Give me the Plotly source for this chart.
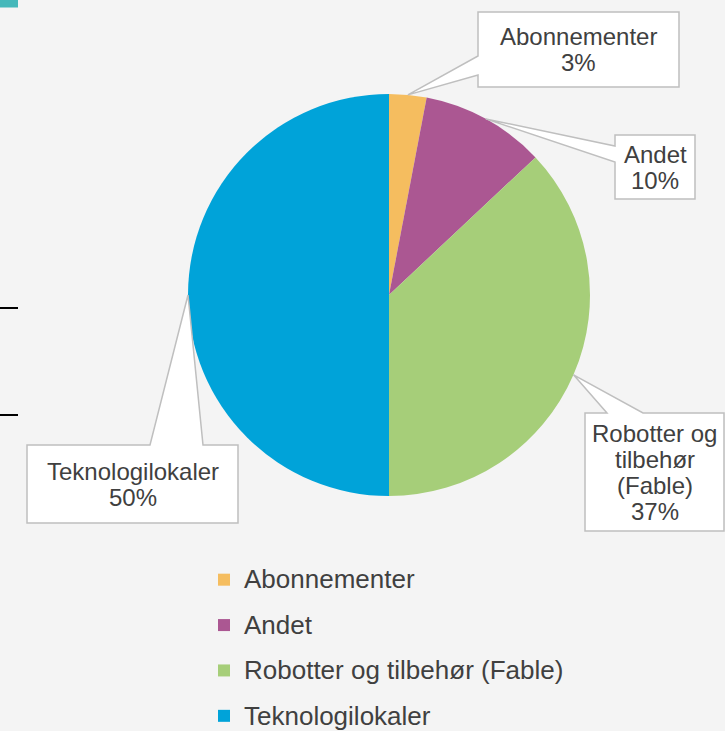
import math
import plotly.graph_objects as go

# ---- data ----
categories = ["Abonnementer", "Andet", "Robotter og tilbehør (Fable)", "Teknologilokaler"]
values = [3, 10, 37, 50]
box_labels = ["Abonnementer", "Andet", "Robotter og<br>tilbehør<br>(Fable)", "Teknologilokaler"]
colors = ["#F5BD5F", "#AB5792", "#A6CE79", "#00A3D9"]

W, H = 725, 731
CX, CY, R = 389, 295, 201
FONT = "Liberation Sans, Arial, sans-serif"
TEXT_COLOR = "#404040"
LABEL_SIZE = 24
LABEL_LINE = 26
LEGEND_TEXT_SIZE = 26

# callout boxes: (x0, y0, x1, y1, side, leg_a, leg_b)
boxes = [
    (478, 12, 679, 87, "left", 56, 75),
    (615, 135, 695, 199, "left", 146, 162),
    (585, 413, 724, 531, "top", 607, 643),
    (27, 445, 238, 523, "top", 150, 203),
]

legend_labels = [f"<span style='font-size:{LEGEND_TEXT_SIZE}px;baseline-shift:4px'>{c}</span>"
                 for c in categories]

fig = go.Figure()
fig.add_trace(go.Pie(
    labels=legend_labels, values=values, sort=False, direction="clockwise", rotation=0,
    marker=dict(colors=colors, line=dict(width=0)),
    textinfo="none", hoverinfo="label+percent",
    domain=dict(x=[(CX - R) / W, (CX + R) / W], y=[1 - (CY + R) / H, 1 - (CY - R) / H]),
))

shapes = []
annotations = []
total = sum(values)
cum = 0
for i, v in enumerate(values):
    mid = (cum + v / 2) / total
    cum += v
    th = 2 * math.pi * mid
    tx = CX + R * math.sin(th)
    ty = CY - R * math.cos(th)
    x0, y0, x1, y1, side, a, b = boxes[i]
    if side == "left":
        pts = [(x0, y0), (x1, y0), (x1, y1), (x0, y1), (x0, b), (tx, ty), (x0, a)]
    else:
        pts = [(x0, y0), (a, y0), (tx, ty), (b, y0), (x1, y0), (x1, y1), (x0, y1)]
    path = "M " + " L ".join(f"{px:.1f},{py:.1f}" for px, py in pts) + " Z"
    shapes.append(dict(type="path", path=path, xref="x", yref="y",
                       fillcolor="white", line=dict(color="#BFBFBF", width=1.5), layer="above"))
    pct = f"{v / total * 100:.0f}%"
    lines = box_labels[i].split("<br>") + [pct]
    n = len(lines)
    cy_box = (y0 + y1) / 2
    for k, line in enumerate(lines):
        annotations.append(dict(x=(x0 + x1) / 2, y=cy_box + (k - (n - 1) / 2) * LABEL_LINE,
                                xref="x", yref="y", text=line, showarrow=False,
                                font=dict(family=FONT, size=LABEL_SIZE, color=TEXT_COLOR),
                                align="center", xanchor="center", yanchor="middle"))

# decorative fragments at the left edge
shapes.append(dict(type="rect", x0=0, x1=18, y0=0, y1=7.5, xref="x", yref="y",
                   fillcolor="#45B8BA", line=dict(width=0), layer="below"))
for yy in (308, 415):
    shapes.append(dict(type="line", x0=0, x1=18, y0=yy, y1=yy, xref="x", yref="y",
                       line=dict(color="#000000", width=2)))

fig.update_layout(
    width=W, height=H,
    margin=dict(l=0, r=0, t=0, b=0, autoexpand=False),
    paper_bgcolor="#F4F4F4", plot_bgcolor="rgba(0,0,0,0)",
    xaxis=dict(range=[0, W], visible=False, fixedrange=True),
    yaxis=dict(range=[H, 0], visible=False, fixedrange=True),
    shapes=shapes, annotations=annotations,
    showlegend=True,
    legend=dict(orientation="v", x=204 / W, y=1 - 552 / H, xanchor="left", yanchor="top",
                font=dict(family=FONT, size=32.6, color=TEXT_COLOR),
                bgcolor="rgba(0,0,0,0)", traceorder="normal"),
)

fig.write_html("out.html", config={"displayModeBar": False},
               post_script="document.body.style.margin='0';")
